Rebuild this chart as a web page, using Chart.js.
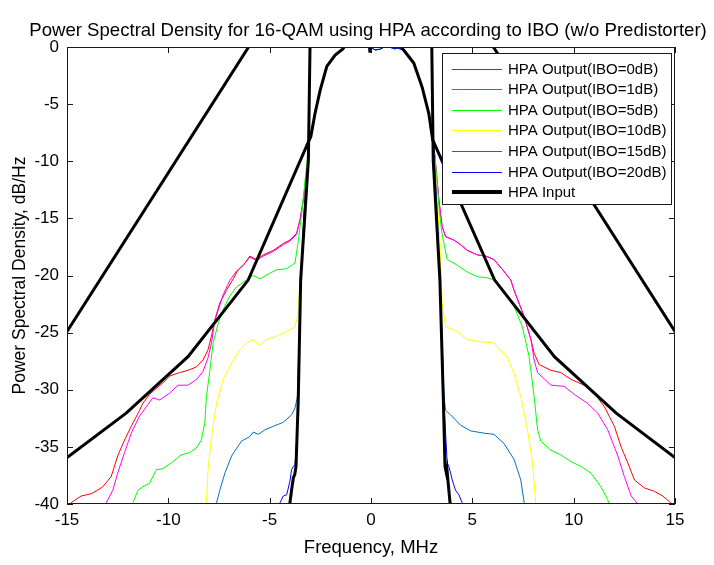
<!DOCTYPE html>
<html><head><meta charset="utf-8">
<script src="https://cdn.jsdelivr.net/npm/chart.js@4/dist/chart.umd.min.js"></script>
<style>html,body{margin:0;padding:0;background:#fff}</style>
</head><body>
<canvas id="c" width="714" height="565"></canvas>
<script>
// ---------- data (frequency MHz, PSD dB/Hz) ----------
const xTickValues = [-15, -10, -5, 0, 5, 10, 15];
const yTickValues = [0, -5, -10, -15, -20, -25, -30, -35, -40];
const titleText = 'Power Spectral Density for 16-QAM using HPA according to IBO (w/o Predistorter)';
const xTitle = 'Frequency, MHz';
const yTitle = 'Power Spectral Density, dB/Hz';
const seriesNames = ['HPA Output(IBO=0dB)', 'HPA Output(IBO=1dB)', 'HPA Output(IBO=5dB)',
  'HPA Output(IBO=10dB)', 'HPA Output(IBO=15dB)', 'HPA Output(IBO=20dB)', 'HPA Input'];
const seriesColors = ['#ff0000', '#ff00ff', '#00ff00', '#ffff00', '#0072bd', '#0000ff', '#000000'];

// shared main lobe of all HPA outputs
const mainLobe = [[-3.04,-8.1],[-2.9,-7.0],[-2.76,-5.8],[-2.6,-4.5],[-2.45,-3.4],[-2.3,-2.4],[-2.15,-1.6],
  [-1.95,-1.1],[-1.77,-0.7],[-1.5,-0.3],[-1.2,0.1],[-1.0,0.4],[-0.3,0.4],[0.0,-0.05],[0.2,-0.25],[0.45,-0.2],
  [0.6,-0.05],[0.8,0.3],[1.0,-0.05],[1.15,-0.15],[1.35,-0.1],[1.61,-0.3],[1.85,-0.7],[2.11,-1.4],[2.3,-2.3],
  [2.52,-3.5],[2.7,-4.7],[2.85,-5.8],[3.0,-7.2],[3.08,-8.2]];

const ibo0Left = [[-14.9,-40.4],[-14.8,-39.9],[-14.56,-39.6],[-14.3,-39.3],[-13.8,-39.1],[-13.5,-38.8],[-13.24,-38.5],
  [-12.82,-37.6],[-12.5,-35.8],[-12.16,-34.4],[-11.83,-33.2],[-11.42,-31.8],[-11.26,-31.2],[-10.93,-30.4],
  [-10.6,-29.9],[-10.27,-29.4],[-9.94,-28.8],[-9.44,-28.5],[-9.03,-28.3],[-8.61,-28.0],[-8.29,-27.4],
  [-8.04,-26.5],[-7.87,-25.3],[-7.71,-23.9],[-7.46,-22.4],[-7.13,-21.3],[-6.8,-20.3],[-6.55,-19.5],
  [-6.3,-19.1],[-5.98,-18.3],[-5.64,-18.6],[-5.32,-18.2],[-4.82,-17.8],[-4.33,-17.2],[-4.0,-16.9],
  [-3.67,-16.3],[-3.5,-15.1],[-3.34,-13.4],[-3.17,-11.05]];
const ibo0Right = [[3.2,-10.5],[3.35,-13.4],[3.51,-15.7],[3.68,-16.6],[4.09,-16.9],[4.42,-17.3],[4.75,-17.8],
  [5.25,-18.2],[5.66,-18.3],[6.07,-18.6],[6.5,-19.5],[6.9,-20.4],[7.06,-21.3],[7.3,-22.4],[7.56,-23.6],
  [7.89,-25.6],[8.05,-26.8],[8.3,-27.8],[8.88,-28.3],[9.37,-28.5],[9.87,-29.1],[10.52,-29.6],[11.02,-30.3],
  [11.52,-31.5],[12.01,-33.2],[12.34,-35.0],[12.67,-36.4],[13.0,-37.9],[13.5,-38.6],[13.99,-38.9],
  [14.4,-39.3],[14.73,-39.8],[14.9,-40.1],[15.0,-40.3]];

const ibo1Left = [[-13.2,-40.5],[-13.07,-39.9],[-12.74,-38.8],[-12.5,-37.3],[-12.16,-35.5],[-11.83,-33.8],
  [-11.42,-32.3],[-11.09,-31.5],[-10.76,-30.7],[-10.43,-30.9],[-9.94,-30.3],[-9.52,-29.6],[-9.03,-29.6],
  [-8.61,-29.1],[-8.29,-28.4],[-8.04,-27.2],[-7.87,-25.9],[-7.71,-24.0],[-7.3,-21.7],[-6.96,-20.4],
  [-6.63,-19.6],[-6.3,-19.1],[-5.98,-18.4],[-5.64,-18.7],[-5.32,-18.3],[-4.82,-17.9],[-4.33,-17.3],
  [-4.0,-17.0],[-3.67,-16.4],[-3.5,-15.1],[-3.34,-13.4],[-3.17,-11.05]];
const ibo1Right = [[3.2,-10.5],[3.35,-13.4],[3.51,-15.7],[3.68,-16.6],[4.09,-16.9],[4.42,-17.3],[4.75,-17.8],
  [5.25,-18.2],[5.66,-18.3],[6.07,-18.6],[6.5,-19.5],[6.9,-20.4],[7.06,-21.3],[7.3,-22.4],[7.56,-23.6],
  [7.89,-25.6],[8.05,-27.4],[8.22,-28.5],[8.88,-29.6],[9.53,-29.7],[10.03,-30.4],[10.69,-31.2],
  [11.19,-32.05],[11.68,-33.5],[12.18,-35.8],[12.5,-37.6],[12.84,-39.3],[13.17,-40.0],[13.3,-40.5]];

const ibo5Left = [[-11.85,-40.5],[-11.75,-39.9],[-11.5,-38.8],[-11.26,-38.5],[-10.93,-38.2],[-10.6,-37.0],
  [-10.27,-36.9],[-9.85,-36.4],[-9.36,-35.7],[-8.95,-35.5],[-8.62,-35.1],[-8.37,-34.4],[-8.2,-32.9],
  [-8.12,-30.6],[-7.95,-28.3],[-7.79,-25.9],[-7.54,-24.2],[-7.3,-23.0],[-6.97,-21.8],[-6.64,-21.0],
  [-6.14,-20.4],[-5.81,-20.0],[-5.48,-20.3],[-4.99,-19.8],[-4.65,-19.5],[-4.16,-19.4],[-3.75,-18.9],
  [-3.58,-16.9],[-3.42,-14.6],[-3.25,-11.6]];
const ibo5Right = [[3.25,-11.6],[3.35,-14.0],[3.5,-16.3],[3.76,-18.6],[4.26,-19.1],[4.75,-19.7],[5.25,-20.1],
  [5.74,-20.2],[6.07,-20.4],[6.56,-21.3],[7.06,-22.7],[7.47,-24.5],[7.8,-27.1],[8.05,-30.6],[8.22,-33.5],
  [8.38,-34.5],[8.88,-35.3],[9.37,-35.7],[9.87,-36.3],[10.36,-36.7],[10.86,-37.3],[11.35,-38.5],
  [11.68,-39.6],[11.8,-40.5]];

const ibo10Left = [[-8.15,-40.5],[-8.12,-39.9],[-8.04,-37.0],[-7.87,-34.1],[-7.62,-31.2],[-7.3,-29.1],
  [-6.88,-27.7],[-6.47,-26.5],[-6.14,-25.9],[-5.81,-25.6],[-5.48,-26.1],[-5.15,-25.6],[-4.65,-25.3],
  [-4.16,-24.9],[-3.75,-24.5],[-3.63,-23.6],[-3.55,-21.8],[-3.47,-19.5],[-3.3,-14.5],[-3.12,-10.0]];
const ibo10Right = [[3.15,-10.0],[3.4,-17.0],[3.51,-22.4],[3.68,-24.5],[4.17,-24.8],[4.75,-25.6],[5.41,-25.8],
  [6.07,-25.9],[6.73,-27.2],[7.06,-28.6],[7.39,-30.6],[7.72,-33.5],[7.97,-36.4],[8.13,-39.9],[8.16,-40.5]];

const ibo15Left = [[-7.65,-40.5],[-7.62,-39.9],[-7.46,-38.8],[-7.21,-37.3],[-6.88,-35.8],[-6.39,-34.5],
  [-5.98,-34.1],[-5.81,-33.7],[-5.56,-33.9],[-5.23,-33.5],[-4.82,-33.2],[-4.33,-32.85],[-3.92,-32.2],
  [-3.75,-31.6],[-3.63,-30.6],[-3.5,-22.0],[-3.3,-14.5],[-3.12,-10.0]];
const ibo15Right = [[3.15,-10.0],[3.4,-20.0],[3.6,-30.5],[3.68,-31.8],[3.93,-32.2],[4.42,-33.1],[4.92,-33.6],
  [5.57,-33.8],[6.07,-33.9],[6.56,-34.7],[7.06,-36.1],[7.39,-37.9],[7.56,-39.9],[7.6,-40.5]];

const ibo20Left = [[-4.55,-40.5],[-4.49,-39.9],[-4.33,-39.3],[-4.16,-39.2],[-4.0,-38.0],[-3.92,-37.0],
  [-3.83,-36.7],[-3.75,-36.6],[-3.65,-34.0],[-3.58,-30.9],[-3.48,-20.4],[-3.3,-14.5],[-3.1,-9.9]];
const ibo20Right = [[3.1,-9.9],[3.4,-20.0],[3.6,-31.2],[3.76,-36.4],[3.84,-36.7],[4.01,-37.9],[4.17,-38.8],
  [4.34,-39.2],[4.5,-39.9],[4.55,-40.5]];

const hpaInput = [[-4.05,-40.5],[-4.0,-39.9],[-3.92,-38.8],[-3.83,-37.7],[-3.76,-37.4],[-3.7,-36.7],
  [-3.59,-30.9],[-3.47,-20.4],[-3.09,-9.9],[-3.01,0.0],[-2.98,0.5],[-0.1,0.5],[-0.05,-0.5],[0.0,0.5],
  [2.98,0.5],[3.0,0.0],[3.07,-9.9],[3.4,-20.4],[3.57,-30.9],[3.65,-36.7],[3.72,-37.3],[3.75,-37.0],
  [3.81,-38.2],[3.9,-39.9],[3.93,-40.5]];

// black reference lines (not in legend)
const maskInner = [[-15.2,-36.2],[-12.08,-32.05],[-9.03,-27.1],[-6.06,-20.4],[-3.04,-8.1],[-2.97,-7.85],
  [-2.76,-5.8],[-2.51,-3.8],[-2.18,-1.7],[-1.77,-0.7],[-1.4,-0.2],[-1.19,0.3],[1.35,0.3],[1.61,-0.26],
  [2.11,-1.4],[2.52,-3.5],[2.85,-5.8],[3.04,-8.1],[6.1,-20.4],[9.05,-27.1],[12.1,-32.05],[15.2,-36.2]];
const maskOuterLeft = [[-5.86,0.5],[-15.2,-25.45]];
const maskOuterRight = [[5.86,0.5],[15.2,-25.45]];

// ---------- chart ----------
const FONT = "'Liberation Sans', Arial, sans-serif";
const toXY = arr => arr.map(p => ({x: p[0], y: p[1]}));
const outputs = [
  [...ibo0Left, ...mainLobe, ...ibo0Right],
  [...ibo1Left, ...mainLobe, ...ibo1Right],
  [...ibo5Left, ...mainLobe, ...ibo5Right],
  [...ibo10Left, ...mainLobe, ...ibo10Right],
  [...ibo15Left, ...mainLobe, ...ibo15Right],
  [...ibo20Left, ...mainLobe, ...ibo20Right],
];
const datasets = outputs.map((pts, i) => ({
  label: seriesNames[i], data: toXY(pts), borderColor: seriesColors[i], borderWidth: 1,
  order: 10 - i, legendIndex: i
}));
datasets.push({label: seriesNames[6], data: toXY(hpaInput), borderColor: seriesColors[6], borderWidth: 3, order: 1, legendIndex: 6});
datasets.push({label: 'mask1', data: toXY(maskInner), borderColor: '#000', borderWidth: 3, order: 0, legendIndex: -1});
datasets.push({label: 'mask2', data: toXY(maskOuterLeft), borderColor: '#000', borderWidth: 3, order: 0, legendIndex: -1});
datasets.push({label: 'mask3', data: toXY(maskOuterRight), borderColor: '#000', borderWidth: 3, order: 0, legendIndex: -1});

const framePlugin = {
  id: 'frame',
  afterDraw(chart) {
    const {ctx, chartArea: a, scales} = chart;
    ctx.save();
    // title centred over the axes
    ctx.fillStyle = '#000000';
    ctx.font = '18.6px ' + FONT;
    ctx.textAlign = 'center';
    ctx.textBaseline = 'middle';
    ctx.fillText(titleText, (a.left + a.right) / 2 - 3, 31);
    // axes box and inward ticks
    ctx.strokeStyle = '#1a1a1a';
    ctx.lineWidth = 1;
    ctx.strokeRect(Math.round(a.left) + 0.5, Math.round(a.top) + 0.5, Math.round(a.right - a.left) - 1, Math.round(a.bottom - a.top) - 1);
    ctx.beginPath();
    const tl = 6;
    xTickValues.forEach(v => {
      const px = Math.round(scales.x.getPixelForValue(v)) + 0.5;
      ctx.moveTo(px, a.bottom); ctx.lineTo(px, a.bottom - tl);
      ctx.moveTo(px, a.top); ctx.lineTo(px, a.top + tl);
    });
    yTickValues.forEach(v => {
      const py = Math.round(scales.y.getPixelForValue(v)) + 0.5;
      ctx.moveTo(a.left, py); ctx.lineTo(a.left + tl, py);
      ctx.moveTo(a.right, py); ctx.lineTo(a.right - tl, py);
    });
    ctx.stroke();
    // legend box (MATLAB style, inside axes, top-right)
    const items = chart.data.datasets.filter(d => d.legendIndex >= 0);
    ctx.font = '15px ' + FONT;
    const maxW = Math.max(...items.map(d => ctx.measureText(d.label).width));
    const rowH = 20.6;
    const w = Math.round(10 + 50 + 6 + maxW + 4);
    const h = Math.round(items.length * rowH + 7);
    const bx = Math.round(a.right - 4 - w), by = Math.round(a.top + 6);
    ctx.fillStyle = '#ffffff';
    ctx.fillRect(bx, by, w, h);
    ctx.strokeStyle = '#1a1a1a';
    ctx.lineWidth = 1;
    ctx.strokeRect(bx + 0.5, by + 0.5, w, h);
    items.forEach((d, i) => {
      const cy = Math.round(by + 15.5 + i * rowH);
      const thick = d.borderWidth > 1;
      ctx.fillStyle = seriesColors[d.legendIndex];
      if (thick) ctx.fillRect(bx + 10, cy - 2, 50, 4);
      else ctx.fillRect(bx + 10, cy, 50, 1);
      ctx.fillStyle = '#000000';
      ctx.textBaseline = 'middle';
      ctx.textAlign = 'left';
      ctx.fillText(d.label, bx + 66, cy + 1);
    });
    ctx.restore();
  }
};

new Chart(document.getElementById('c'), {
  type: 'line',
  data: {datasets},
  options: {
    responsive: false, animation: false, devicePixelRatio: 1,
    layout: {padding: {left: 0, right: 39, top: 47, bottom: 0}},
    elements: {point: {radius: 0}, line: {tension: 0}},
    datasets: {line: {clip: 0, fill: false, spanGaps: false}},
    plugins: {
      legend: {display: false},
      tooltip: {enabled: false},
      title: {display: false}
    },
    scales: {
      x: {type: 'linear', min: -15, max: 15,
        grid: {display: false, drawTicks: false}, border: {display: false},
        ticks: {stepSize: 5, color: '#000', padding: 6, maxRotation: 0, font: {family: FONT, size: 17}},
        title: {display: true, text: xTitle, color: '#000', font: {family: FONT, size: 18.5}, padding: {top: 0, bottom: 6}},
        afterFit(s) { s.height = 61; }},
      y: {type: 'linear', min: -40, max: 0,
        grid: {display: false, drawTicks: false}, border: {display: false},
        ticks: {stepSize: 5, color: '#000', padding: 8, font: {family: FONT, size: 17}},
        title: {display: true, text: yTitle, color: '#000', font: {family: FONT, size: 17.5}, padding: {top: 9.5, bottom: 0}},
        afterFit(s) { s.width = 67; }}
    }
  },
  plugins: [framePlugin]
});
</script>
</body></html>
